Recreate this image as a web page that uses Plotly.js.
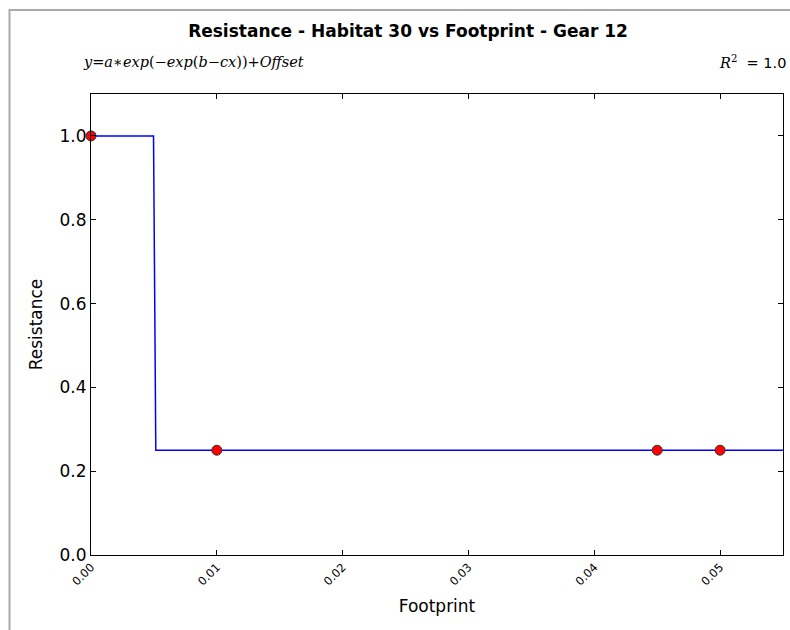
<!DOCTYPE html>
<html><head><meta charset="utf-8">
<script src="https://cdn.plot.ly/plotly-3.0.1.min.js"></script>
<style>body{margin:0;background:#fff}#plot{width:790px;height:630px}</style>
</head><body><div id="plot"></div>
<script>
// Observed data points
const footprint = [0.0, 0.01, 0.045, 0.05];
const resistance = [1.0, 0.25, 0.25, 0.25];
// Fitted curve
const fitX = [0.0, 0.00497, 0.00515, 0.055];
const fitY = [1.0, 1.0, 0.25, 0.25];
const xTicks = [0.00, 0.01, 0.02, 0.03, 0.04, 0.05];
const xTickText = ["0.00", "0.01", "0.02", "0.03", "0.04", "0.05"];
const yTicks = [0.0, 0.2, 0.4, 0.6, 0.8, 1.0];
const yTickText = ["0.0", "0.2", "0.4", "0.6", "0.8", "1.0"];

const F = "DejaVu Sans";
const traces = [
  {x: fitX, y: fitY, mode: "lines", line: {color: "#0000ff", width: 1.5}, hoverinfo: "skip", cliponaxis: true},
  {x: footprint, y: resistance, mode: "markers", cliponaxis: false,
   marker: {color: "#ff0000", size: 10, line: {color: "#333", width: 1}}}
];
const ml = 91, mr = 7, mt = 94, mb = 75;
const pw = 790 - ml - mr, ph = 630 - mt - mb;
const px = v => (v - ml) / pw;
const py = v => 1 - (v - mt) / ph;
const layout = {
  width: 790, height: 630, showlegend: false,
  paper_bgcolor: "#fff", plot_bgcolor: "#fff",
  margin: {l: ml, r: mr, t: mt, b: mb, pad: 0},
  font: {family: F, color: "#000"},
  title: {text: "<b>Resistance - Habitat 30 vs Footprint - Gear 12</b>", font: {family: F, size: 17, color: "#000"},
    xref: "paper", x: px(408), xanchor: "center", yref: "container", y: 1 - 31/630, yanchor: "middle"},
  xaxis: {range: [0, 0.055], tickvals: xTicks, ticktext: xTickText, tickangle: -45,
    tickfont: {family: F, size: 11.5, color: "#000"}, ticks: "inside", ticklen: 5, tickcolor: "#000",
    showgrid: false, zeroline: false, showline: true, linecolor: "#000", linewidth: 1, mirror: "ticks",
    title: {text: "Footprint", font: {family: F, size: 17, color: "#000"}, standoff: 12}},
  yaxis: {range: [0, 1.1], tickvals: yTicks, ticktext: yTickText,
    tickfont: {family: F, size: 17, color: "#000"}, ticks: "inside", ticklen: 5, tickcolor: "#000",
    showgrid: false, zeroline: false, showline: true, linecolor: "#000", linewidth: 1, mirror: "ticks",
    title: {text: "Resistance", font: {family: F, size: 17, color: "#000"}, standoff: 12}},
  annotations: [
    {xref: "paper", yref: "paper", x: px(81), y: py(62), xanchor: "left", yanchor: "middle", showarrow: false,
     text: "<i>y</i>=<i>a</i>∗<i>exp</i>(−<i>exp</i>(<i>b</i>−<i>cx</i>))+<i>Offset</i>",
     font: {family: "DejaVu Serif", size: 14.5, color: "#000"}},
    {xref: "paper", yref: "paper", x: px(788), y: py(62), xanchor: "right", yanchor: "middle", showarrow: false,
     text: "<span style='font-family:DejaVu Serif'><i>R</i><sup>2</sup></span>  = 1.0",
     font: {family: F, size: 14.5, color: "#000"}}
  ],
  shapes: [
    {type: "rect", xref: "paper", yref: "paper", x0: px(9.5), x1: px(800), y0: py(10), y1: py(640),
     line: {color: "#aaaaaa", width: 2}, fillcolor: "rgba(0,0,0,0)", layer: "below"}
  ]
};
Plotly.newPlot("plot", traces, layout, {displayModeBar: false, staticPlot: true});
</script></body></html>
